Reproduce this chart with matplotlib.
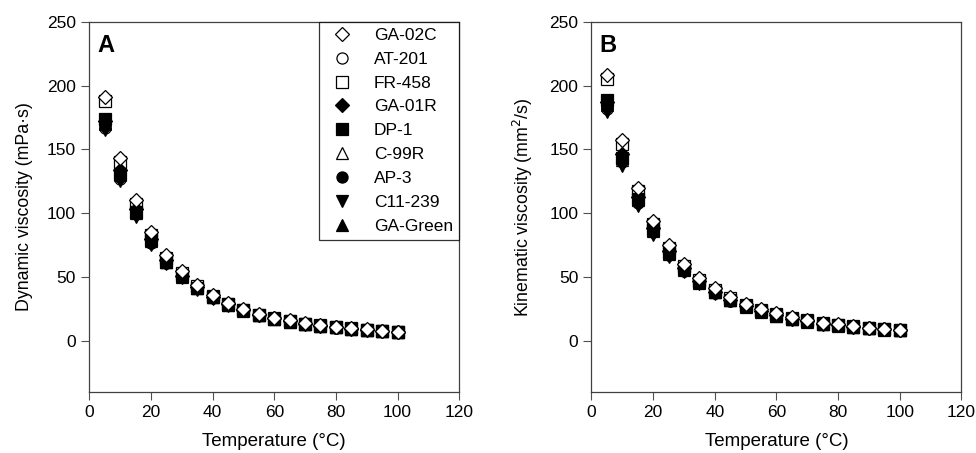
import numpy as np
import matplotlib.pyplot as plt

plt.rcParams['font.family'] = ['Liberation Sans', 'DejaVu Sans']

temperature = [5, 10, 15, 20, 25, 30, 35, 40, 45, 50, 55, 60, 65, 70, 75, 80, 85, 90, 95, 100]

samples = ['GA-02C', 'AT-201', 'FR-458', 'GA-01R', 'DP-1', 'C-99R', 'AP-3', 'C11-239', 'GA-Green']
markers = ['D', 'o', 's', 'D', 's', '^', 'o', 'v', '^']
filled = [False, False, False, True, True, False, True, True, True]

# dynamic viscosity (mPa.s)
dynamic = {
    'GA-02C':   [191, 143, 110, 85, 67, 55, 44, 36, 30, 25, 21, 18, 16, 14, 12, 11, 10, 9, 8, 7],
    'AT-201':   [167, 127, 99, 77, 61, 50, 41, 34, 28, 23.5, 20, 17.2, 15, 13.2, 11.7, 10.4, 9.4, 8.5, 7.7, 7],
    'FR-458':   [188, 140, 107, 83, 65, 53, 43, 35, 29, 24.5, 20.5, 17.5, 15.5, 13.5, 12, 10.8, 9.8, 8.8, 8, 7.2],
    'GA-01R':   [172, 134, 103, 80, 63, 51, 42, 34.5, 28.5, 24, 20.5, 17.5, 15.3, 13.4, 11.9, 10.6, 9.5, 8.6, 7.8, 7.1],
    'DP-1':     [174, 131, 101, 79, 62, 51, 41.5, 34, 28.5, 24, 20.3, 17.4, 15.2, 13.3, 11.8, 10.5, 9.5, 8.6, 7.8, 7.1],
    'C-99R':    [170, 130, 100, 78, 62, 50, 41, 34, 28, 23.7, 20.2, 17.3, 15.1, 13.2, 11.7, 10.5, 9.4, 8.5, 7.7, 7],
    'AP-3':     [168, 128, 99, 77, 61, 50, 41, 33.5, 28, 23.6, 20, 17.2, 15, 13.2, 11.7, 10.4, 9.4, 8.5, 7.7, 7],
    'C11-239':  [165, 125, 97, 75, 60, 49, 40, 33, 27.5, 23.2, 19.8, 17, 14.8, 13, 11.5, 10.3, 9.3, 8.4, 7.6, 6.9],
    'GA-Green': [171, 132, 101, 79, 62, 51, 41.5, 34, 28.3, 23.8, 20.2, 17.3, 15.1, 13.3, 11.8, 10.5, 9.4, 8.5, 7.7, 7],
}

# kinematic viscosity (mm2/s)
kinematic = {
    'GA-02C':   [208, 157, 120, 94, 75, 60, 49, 41, 34, 29, 25, 21.5, 18.5, 16.2, 14.3, 12.8, 11.5, 10.3, 9.4, 8.5],
    'AT-201':   [182, 140, 108, 85, 67, 55, 45, 37.5, 31.5, 26.6, 22.7, 19.6, 17, 15, 13.3, 11.9, 10.7, 9.7, 8.8, 8.1],
    'FR-458':   [205, 154, 117, 91.5, 73, 58.5, 48, 40, 33.3, 28.3, 24.4, 21, 18.2, 16, 14.1, 12.6, 11.3, 10.2, 9.3, 8.5],
    'GA-01R':   [187, 146, 113, 88, 70, 57, 46.5, 38.5, 32.3, 27.2, 23.2, 20, 17.4, 15.3, 13.5, 12, 10.8, 9.8, 8.9, 8.1],
    'DP-1':     [189, 143, 111, 87, 69, 56, 46, 38, 32, 27, 23, 19.9, 17.3, 15.2, 13.4, 12, 10.8, 9.8, 8.9, 8.1],
    'C-99R':    [185, 142, 110, 86, 68, 55.5, 45.5, 38, 31.7, 26.8, 22.9, 19.7, 17.1, 15.1, 13.3, 11.9, 10.7, 9.7, 8.8, 8.1],
    'AP-3':     [183, 141, 109, 85, 67.5, 55, 45, 37.5, 31.5, 26.6, 22.7, 19.6, 17, 15, 13.3, 11.9, 10.7, 9.7, 8.8, 8.1],
    'C11-239':  [179, 137, 106, 83, 66, 54, 44.2, 37, 31, 26.2, 22.4, 19.3, 16.8, 14.8, 13.1, 11.7, 10.6, 9.6, 8.7, 8],
    'GA-Green': [186, 144, 111, 87, 69, 56, 46, 38, 32, 27, 23, 19.8, 17.2, 15.2, 13.4, 12, 10.8, 9.8, 8.9, 8.1],
}

fig = plt.figure(figsize=(9.76, 4.53), dpi=100)
axA = fig.add_axes([0.0915, 0.135, 0.379, 0.817])
axB = fig.add_axes([0.606, 0.135, 0.379, 0.817])


def draw(ax, data, ylabel, letter):
    for i, (name, m, f) in enumerate(zip(samples, markers, filled)):
        ms = 7 if m == 'D' else 8
        if m in ('^', 'v'):
            ms = 8.5
        ax.plot(temperature, data[name], linestyle='none', marker=m, ms=ms,
                mfc='black' if f else 'white', mec='black', mew=0.9,
                label=name, zorder=10 if name == 'GA-02C' else 3 + i * 0.1)
    ax.set_xlim(0, 120)
    ax.set_ylim(-40, 250)
    ax.set_xticks(range(0, 121, 20))
    ax.set_yticks(range(0, 251, 50))
    ax.tick_params(direction='out', length=6, width=0.8, labelsize=12.5,
                   colors='#505050', labelcolor='black', top=False, right=False)
    for s in ax.spines.values():
        s.set_color('#404040')
        s.set_linewidth(0.9)
    ax.set_xlabel('Temperature (°C)', fontsize=13.5, labelpad=9)
    ax.set_ylabel(ylabel, fontsize=12.8, labelpad=10)
    ax.text(0.022, 0.968, letter, transform=ax.transAxes, fontsize=17,
            fontweight='bold', va='top', ha='left')


draw(axA, dynamic, 'Dynamic viscosity (mPa·s)', 'A')
draw(axB, kinematic, 'Kinematic viscosity (mm$^2$/s)', 'B')

leg = axA.legend(loc='upper right', borderaxespad=0, frameon=True, fancybox=False,
                 fontsize=12.5, handletextpad=0.9, labelspacing=0.5,
                 borderpad=0.35, handlelength=1.9)
leg.get_frame().set_edgecolor('black')
leg.get_frame().set_linewidth(0.9)
leg.set_zorder(20)

fig.savefig('out.png', dpi=100)
